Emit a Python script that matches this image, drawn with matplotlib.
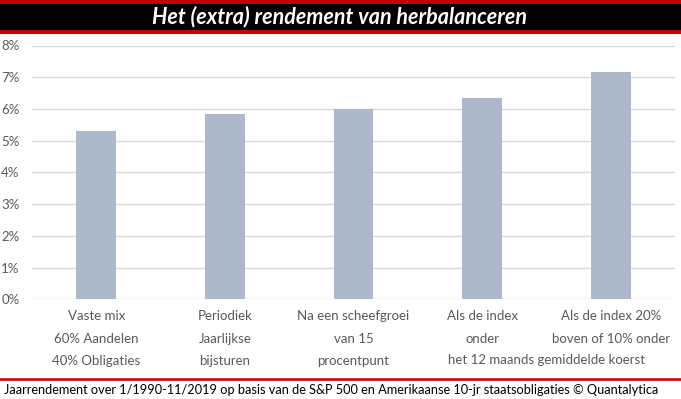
import matplotlib.pyplot as plt
import matplotlib.transforms as mtransforms
from matplotlib.patches import Rectangle
from matplotlib.lines import Line2D
from matplotlib.ticker import FuncFormatter

plt.rcParams['font.family'] = ['Lato', 'DejaVu Sans']

# data (annual return, %)
categories = [
    "Vaste mix\n60% Aandelen\n40% Obligaties",
    "Periodiek\nJaarlijkse\nbijsturen",
    "Na een scheefgroei\nvan 15\nprocentpunt",
    "Als de index\nonder",
    "Als de index 20%\nboven of 10% onder",
]
shared_label = "het 12 maands gemiddelde koerst"
returns = [5.32, 5.83, 5.99, 6.35, 7.15]

title = "Het (extra) rendement van herbalanceren"
footer = "Jaarrendement over 1/1990-11/2019 op basis van de S&P 500 en Amerikaanse 10-jr staatsobligaties \u00a9 Quantalytica"

bar_color = "#ADB9CA"
grid_color = "#D9D9D9"
text_grey = "#595959"
red = "#C00000"

W, H = 681, 399
fig = plt.figure(figsize=(W / 100, H / 100), dpi=100)
fig.patch.set_facecolor("white")

# title bar: red / black / red
fig.patches.append(Rectangle((0, 1 - 34 / H), 1, 34 / H, transform=fig.transFigure,
                             facecolor=red, edgecolor="none"))
fig.patches.append(Rectangle((0, 1 - 30 / H), 1, 26.5 / H, transform=fig.transFigure,
                             facecolor="black", edgecolor="none"))
fig.text(339 / W, 1 - 17 / H, title, color="white", fontsize=15.5, fontweight="bold",
         fontstyle="italic", ha="center", va="center")

# footer
fig.lines.append(Line2D([0, 1], [1 - 379 / H] * 2, transform=fig.transFigure,
                        color=red, linewidth=1.8))
fig.text(4 / W, 1 - 390 / H, footer, color="black", fontsize=9.2, ha="left", va="center")

ax = fig.add_axes([32 / W, 1 - 299.3 / H, (675 - 32) / W, (299.3 - 45.5) / H])
x = list(range(len(returns)))
ax.bar(x, returns, width=0.31, color=bar_color, zorder=3)
ax.set_ylim(0, 8)
ax.set_xlim(-0.5, len(returns) - 0.5)
ax.set_yticks(range(0, 9))
ax.yaxis.set_major_formatter(FuncFormatter(lambda v, p: f"{int(v)}%"))
ax.grid(axis="y", color=grid_color, linewidth=1, zorder=0)
for s in ax.spines.values():
    s.set_visible(False)
ax.tick_params(axis="both", length=0, colors=text_grey, labelsize=9.5)
ax.tick_params(axis="y", pad=9)
ax.set_xticks(x)
ax.set_xticklabels(categories, linespacing=2.03)
ax.tick_params(axis="x", pad=8)
trans = mtransforms.blended_transform_factory(ax.transData, fig.transFigure)
ax.text(3.5, 1 - 360 / H, shared_label, transform=trans, ha="center",
        va="center", color=text_grey, fontsize=9.5)

fig.savefig("out.png", dpi=100, facecolor="white")
